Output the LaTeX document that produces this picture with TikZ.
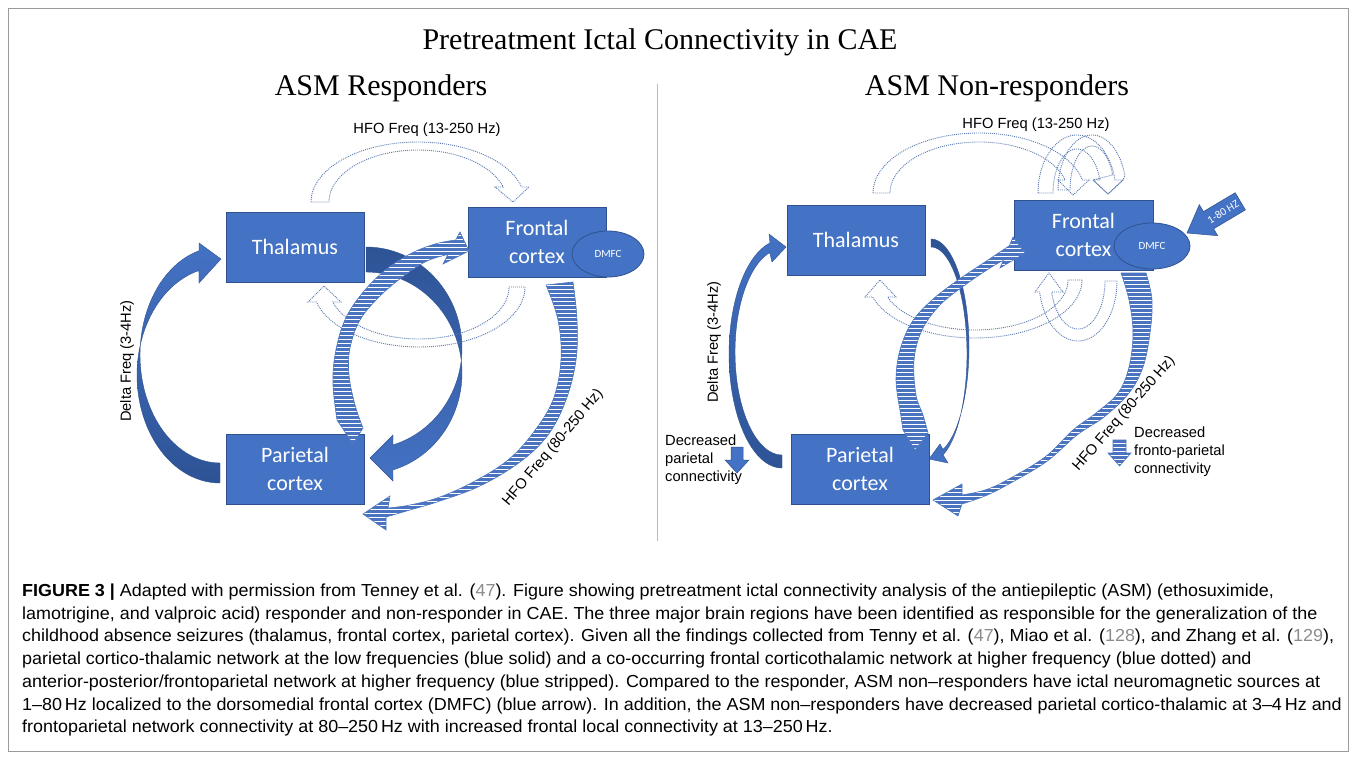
\documentclass[tikz,border=0pt]{standalone}
\usepackage{fontspec}
\setmainfont{Liberation Serif}
\newfontfamily\arialf{Liberation Sans}
\newfontfamily\calib{Carlito}
\newfontfamily\capf[FakeStretch=1.031]{Liberation Sans}
\usetikzlibrary{shapes.geometric}
\definecolor{boxblue}{HTML}{4472C4}
\definecolor{boxedge}{HTML}{2F528F}
\definecolor{darkblue}{HTML}{2E5395}
\definecolor{dotblue}{HTML}{5B7BB2}
\definecolor{stripeblue}{HTML}{4A74C0}
\definecolor{framegray}{HTML}{9A9A9A}
\definecolor{refgray}{HTML}{8C8C8C}
\definecolor{divblue}{HTML}{A9BCDB}
\newcommand{\rf}[1]{\textcolor{refgray}{#1}}
\begin{document}
\begin{tikzpicture}[x=1pt,y=-1pt,
  region/.style={draw=boxedge, line width=0.6pt, fill=boxblue, text=white,
    font=\calib\fontsize{22}{28}\selectfont, align=center,
    minimum width=138pt, minimum height=70pt, inner sep=0pt},
  dmfc/.style={ellipse, draw=boxedge, line width=0.8pt, fill=boxblue, text=white,
    font=\calib\fontsize{11}{12}\selectfont, minimum width=72pt, minimum height=46pt, inner sep=0pt},
  lab/.style={font=\arialf\fontsize{14.7}{18}\selectfont, inner sep=0pt},
  ttl/.style={font=\fontsize{30}{32}\selectfont, inner sep=0pt},
  captext/.style={font=\capf\fontsize{17.4}{18}\selectfont, anchor=west, inner sep=0pt},
  solidarrow/.style={draw=boxedge, line width=0.4pt},
  dotarrow/.style={draw=dotblue, line width=0.9pt, dash pattern=on 1pt off 1pt},
  stripearrow/.style={draw=stripeblue, line width=0.6pt, fill=white,
    path picture={\foreach \k in {0,...,90}{\draw[stripeblue, line width=2.1pt]
      ([yshift=-\k*4pt-1.5pt]path picture bounding box.north west) --
      ([yshift=-\k*4pt-1.5pt]path picture bounding box.north east);}}},
  smallarrow/.style={draw=boxedge, line width=0.5pt, fill=boxblue}
]
\useasboundingbox (0,0) rectangle (1357,760);
\fill[white] (0,0) rectangle (1357,760);
\draw[framegray, line width=0.8pt] (8.5,8.5) rectangle (1348.5,751.5);

% titles
\node[ttl] (title) at (660,42) {Pretreatment Ictal Connectivity in CAE};
\node[ttl] (respT) at (381,88) {ASM Responders};
\node[ttl] (nonrespT) at (997,88) {ASM Non-responders};
\coordinate (divtop) at (657,84);
\coordinate (divbot) at (657,541);
\draw[divblue, line width=0.8pt] (divtop) -- (divbot);

% ================= LEFT PANEL =================
\shade[solidarrow, top color=boxblue, bottom color=darkblue]
  plot[domain=90:255.3, samples=60] ({220+83*cos(\x)},{375+108*sin(\x)})
  -- (199,283) -- (221,259) -- (199,243)
  -- plot[domain=254.8:90, samples=60] ({220+80*cos(\x)},{355+108*sin(\x)}) -- cycle;
\shade[solidarrow, top color=darkblue, bottom color=boxblue]
  plot[domain=-90:73.67, samples=60] ({366+96*cos(\x)},{348+101*sin(\x)})
  -- (393,435) -- (370,458) -- (393,481)
  -- plot[domain=73.67:-90, samples=60] ({366+96*cos(\x)},{373+101*sin(\x)}) -- cycle;

\node[region] (thL) at (295,247) {Thalamus};
\node[region] (frL) at (537,242) {Frontal\\cortex};
\node[region] (paL) at (295,469) {Parietal\\cortex};
\node[dmfc] (dmL) at (608,254) {DMFC};

\draw[dotarrow]
  plot[domain=180:345.5, samples=60] ({418+107*cos(\x)},{202+60*sin(\x)})
  -- (529,187) -- (513,202) -- (495,187)
  -- plot[domain=343.2:180, samples=60] ({418+89*cos(\x)},{202+52*sin(\x)}) -- cycle;
\draw[dotarrow]
  plot[domain=0:165.5, samples=60] ({419+106*cos(\x)},{287+60*sin(\x)})
  -- (308,302) -- (324,286) -- (341,302)
  -- plot[domain=163.2:0, samples=60] ({419+90*cos(\x)},{287+52*sin(\x)}) -- cycle;

\draw[stripearrow]
  plot[smooth, tension=0.6] coordinates {(337,420) (333,385) (335,355) (344,322) (360,296) (383,272) (410,254) (435,244) (455.7,240)}
  -- (460,232) -- (469,251) -- (443,264)
  -- plot[smooth, tension=0.6] coordinates {(448,254.4) (427,261) (405,275) (380,296) (360,320) (350,348) (349,375) (355,405) (363,428)}
  -- (353,444) -- cycle;
\draw[stripearrow]
  plot[smooth, tension=0.6] coordinates {(546,285) (558,320) (561,360) (553,400) (533,433) (508,460) (475,481) (440,497) (410,505) (388,508)}
  -- (390,496) -- (363,514) -- (386,530)
  -- plot[smooth, tension=0.6] coordinates {(386,517) (410,510) (440,501) (480,486) (520,462) (548,435) (566,400) (576,360) (577,320) (573,282)}
  -- cycle;

\node[lab] (hfoL) at (427,130) {HFO Freq (13-250 Hz)};
\node[lab, rotate=90] (deltaL) at (127,361) {Delta Freq (3-4Hz)};
\node[lab, rotate=50] (hfo2L) at (553,448) {HFO Freq (80-250 Hz)};

% ================= RIGHT PANEL =================
\shade[solidarrow, top color=boxblue, bottom color=darkblue]
  plot[domain=90:256.9, samples=60] ({782+53*cos(\x)},{354+114*sin(\x)})
  -- (769,234) -- (786,247) -- (772,262)
  -- plot[domain=254.8:90, samples=60] ({782+47*cos(\x)},{352+103*sin(\x)}) -- cycle;
\shade[solidarrow, top color=darkblue, bottom color=boxblue]
  plot[domain=-90:71.6, samples=60] ({931+38*cos(\x)},{347+108*sin(\x)})
  -- (940,444) -- (929,459) -- (948,463)
  -- plot[domain=70.5:-90, samples=60] ({931+36*cos(\x)},{354+107*sin(\x)}) -- cycle;

\node[region] (thR) at (856,240) {Thalamus};
\node[region, minimum width=139pt] (frR) at (1083.5,235) {Frontal\\cortex};
\node[region] (paR) at (860,469) {Parietal\\cortex};
\node[dmfc, minimum width=76pt] (dmR) at (1152,246) {DMFC};

% dotted arrows (top)
\draw[dotarrow]
  plot[domain=180:347.5, samples=60] ({979+106*cos(\x)},{193+60*sin(\x)})
  -- (1089,180) -- (1073,195) -- (1058,180)
  -- plot[domain=345.2:180, samples=60] ({979+89*cos(\x)},{193+51*sin(\x)}) -- cycle;
\draw[dotarrow]
  plot[domain=180:347, samples=40] ({1077+39*cos(\x)},{193+58*sin(\x)})
  -- (1123,180) -- (1108,194) -- (1093,180)
  -- plot[domain=342.7:180, samples=40] ({1077+24*cos(\x)},{193+44*sin(\x)}) -- cycle;
\draw[dotarrow]
  plot[domain=180:345, samples=40] ({1092+34*cos(\x)},{190+55*sin(\x)})
  -- (1123,180) -- (1108,194) -- (1093,180)
  -- plot[domain=340:180, samples=40] ({1092+22*cos(\x)},{190+44*sin(\x)}) -- cycle;
% dotted arrows (bottom)
\draw[dotarrow]
  plot[domain=0:163, samples=60] ({975+107*cos(\x)},{280+58*sin(\x)})
  -- (865,297) -- (880,280) -- (896,297)
  -- plot[domain=160.1:0, samples=60] ({975+93*cos(\x)},{280+50*sin(\x)}) -- cycle;
\draw[dotarrow]
  plot[domain=0:169.4, samples=40] ({1078+39*cos(\x)},{281+60*sin(\x)})
  -- (1035,292) -- (1049,273) -- (1063,292)
  -- plot[domain=166.7:0, samples=40] ({1078+27*cos(\x)},{281+48*sin(\x)}) -- cycle;

\draw[stripearrow]
  plot[smooth, tension=0.6] coordinates {(900,410) (896,380) (900,350) (912,322) (932,300) (958,280) (985,262) (1009.4,245.7)}
  -- (1013,237) -- (1025,253) -- (1000,268)
  -- plot[smooth, tension=0.6] coordinates {(1003.3,260.3) (990,268) (965,285) (940,305) (922,330) (914,360) (916,395) (923,415) (928,433)}
  -- (915,450) -- (903,430) -- cycle;
\draw[stripearrow]
  plot[smooth, tension=0.6] coordinates {(1121,273) (1129,300) (1133,333) (1129,367) (1118,393) (1096,413) (1073,430) (1045,457) (1007,480) (985,490) (962,495)}
  -- (962,484) -- (933,500) -- (958,516)
  -- plot[smooth, tension=0.6] coordinates {(962,504) (985,496) (1007,485) (1046,462) (1077,435) (1104,417) (1129,393) (1143,367) (1150,333) (1152,300) (1146,273)}
  -- cycle;

\draw[smallarrow] (1235.2,192.7) -- (1203.4,211.6) -- (1199.3,204.7) -- (1187,233) -- (1217.7,235.7) -- (1213.6,228.8) -- (1245.4,209.9) -- cycle;
\node[font=\calib\fontsize{11}{12}\selectfont, text=white, rotate=31, inner sep=0pt] (hz) at (1223,212) {1-80 HZ};

\node[lab] (hfoR) at (1036,125) {HFO Freq (13-250 Hz)};
\node[lab, rotate=90] (deltaR) at (714,342) {Delta Freq (3-4Hz)};
\node[lab, rotate=49] (hfo2R) at (1124,414) {HFO Freq (80-250 Hz)};

\node[lab, align=left, anchor=west] (decP) at (665,460) {Decreased\\parietal\\connectivity};
\draw[smallarrow] (731,447) -- (743,447) -- (743,460) -- (749,460) -- (737,473) -- (725,460) -- (731,460) -- cycle;
\node[lab, align=left, anchor=west] (decF) at (1134,452) {Decreased\\fronto-parietal\\connectivity};
\draw[stripearrow] (1113,440) -- (1126,440) -- (1126,453) -- (1131,453) -- (1119.5,466) -- (1108,453) -- (1113,453) -- cycle;

% caption
\node[captext] (c1) at (22,592) {\textbf{FIGURE 3 |} Adapted with permission from Tenney et al. (\rf{47}). Figure showing pretreatment ictal connectivity analysis of the antiepileptic (ASM) (ethosuximide,};
\node[captext] (c2) at (22,614.7) {lamotrigine, and valproic acid) responder and non-responder in CAE. The three major brain regions have been identified as responsible for the generalization of the};
\node[captext] (c3) at (22,637.4) {childhood absence seizures (thalamus, frontal cortex, parietal cortex). Given all the findings collected from Tenny et al. (\rf{47}), Miao et al. (\rf{128}), and Zhang et al. (\rf{129}),};
\node[captext] (c4) at (22,660.1) {parietal cortico-thalamic network at the low frequencies (blue solid) and a co-occurring frontal corticothalamic network at higher frequency (blue dotted) and};
\node[captext] (c5) at (22,682.8) {anterior-posterior/frontoparietal network at higher frequency (blue stripped). Compared to the responder, ASM non–responders have ictal neuromagnetic sources at};
\node[captext] (c6) at (22,705.5) {1–80\,Hz localized to the dorsomedial frontal cortex (DMFC) (blue arrow). In addition, the ASM non–responders have decreased parietal cortico-thalamic at 3–4\,Hz and};
\node[captext] (c7) at (22,728.2) {frontoparietal network connectivity at 80–250\,Hz with increased frontal local connectivity at 13–250\,Hz.};
\end{tikzpicture}
\end{document}
